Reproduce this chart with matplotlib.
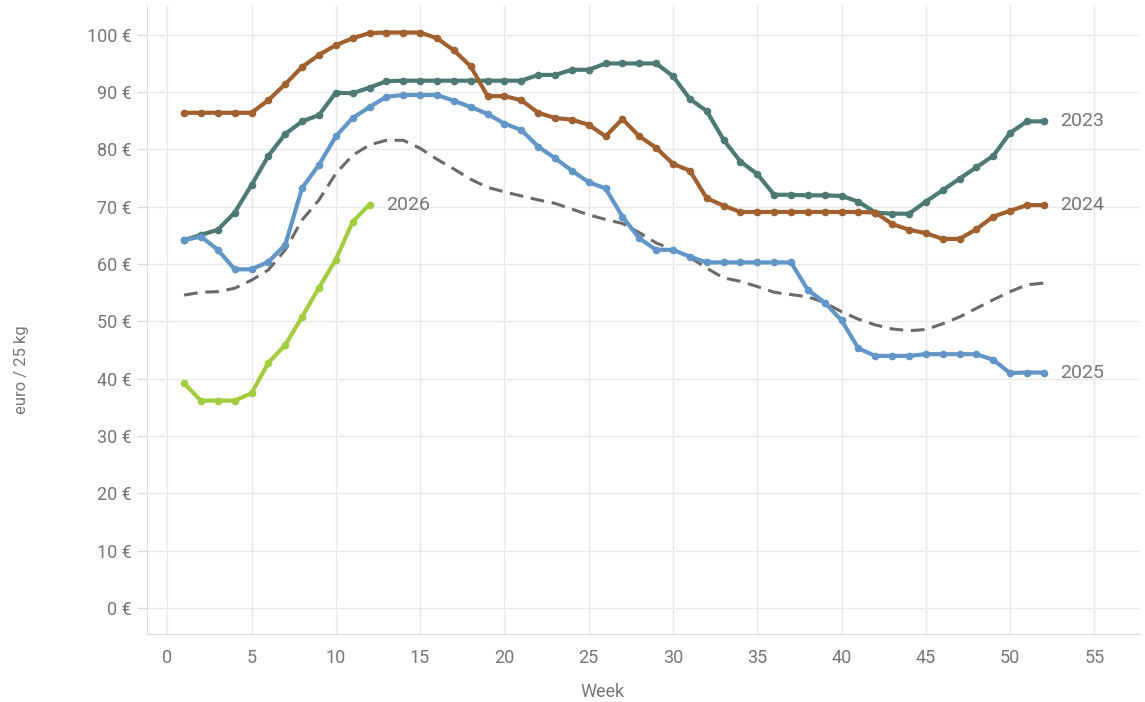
import numpy as np
import matplotlib
matplotlib.use('Agg')
from matplotlib import pyplot as plt
from matplotlib.ticker import FuncFormatter

plt.rcParams['font.family'] = ['Roboto', 'DejaVu Sans']

weeks = np.arange(1, 53)

price_2023 = [64.2, 65.1, 66.0, 69.0, 73.8, 78.9, 82.7, 84.9, 86.0, 89.9,
              89.8, 90.8, 91.9, 92.0, 92.0, 92.0, 92.0, 92.0, 92.0, 92.0,
              92.0, 93.0, 93.0, 93.9, 93.9, 95.0, 95.0, 95.0, 95.0, 92.8,
              88.8, 86.7, 81.7, 77.9, 75.7, 72.1, 72.1, 72.0, 72.0, 71.9,
              70.9, 69.0, 68.8, 68.8, 70.9, 72.9, 74.9, 76.9, 78.9, 82.9,
              84.9, 84.9]

price_2024 = [86.4, 86.4, 86.4, 86.4, 86.4, 88.6, 91.4, 94.4, 96.5, 98.2,
              99.4, 100.3, 100.4, 100.4, 100.4, 99.4, 97.3, 94.5, 89.3, 89.3,
              88.6, 86.4, 85.5, 85.2, 84.3, 82.3, 85.3, 82.3, 80.3, 77.5,
              76.3, 71.5, 70.2, 69.1, 69.1, 69.1, 69.1, 69.1, 69.1, 69.1,
              69.1, 69.0, 67.0, 66.0, 65.4, 64.4, 64.4, 66.1, 68.3, 69.3,
              70.3, 70.3]

price_2025 = [64.2, 64.8, 62.5, 59.1, 59.1, 60.4, 63.4, 73.3, 77.3, 82.3,
              85.5, 87.4, 89.2, 89.5, 89.5, 89.5, 88.5, 87.4, 86.2, 84.5,
              83.4, 80.5, 78.5, 76.3, 74.3, 73.2, 68.3, 64.5, 62.5, 62.5,
              61.3, 60.3, 60.3, 60.3, 60.3, 60.3, 60.3, 55.5, 53.3, 50.2,
              45.3, 44.0, 44.0, 44.0, 44.3, 44.3, 44.3, 44.3, 43.3, 41.0,
              41.1, 41.1]

weeks_2026 = np.arange(1, 13)
price_2026 = [39.2, 36.2, 36.2, 36.2, 37.5, 42.8, 45.9, 50.8, 55.9, 60.8,
              67.4, 70.4]

avg = [54.6, 55.1, 55.2, 55.8, 57.2, 59.0, 62.5, 67.7, 71.2, 75.8,
       79.0, 80.8, 81.6, 81.6, 80.2, 78.3, 76.6, 74.8, 73.4, 72.6,
       71.9, 71.2, 70.6, 69.6, 68.6, 67.8, 67.1, 65.5, 63.7, 62.5,
       61.2, 59.3, 57.6, 57.0, 56.1, 55.1, 54.7, 54.3, 53.3, 51.7,
       50.4, 49.4, 48.7, 48.4, 48.6, 49.6, 50.8, 52.3, 53.8, 55.2,
       56.4, 56.7]

c23 = '#4d7a72'
c24 = '#a1602f'
c25 = '#6196c6'
c26 = '#a2cd3f'
txt = '#767676'

fig = plt.figure(figsize=(11.45, 7.02), dpi=100)
ax = fig.add_axes([0.1284, 0.0969, 0.8672, 0.896])

ax.plot(weeks, avg, '--', color='#6a6a6a', lw=2.2, dashes=(4.5, 2.5), zorder=2)
for x, y, c in [(weeks, price_2023, c23), (weeks, price_2024, c24),
                (weeks, price_2025, c25), (weeks_2026, price_2026, c26)]:
    ax.plot(x, y, '-o', color=c, lw=3, ms=4.5, mec=c, mfc=c, zorder=3)

labels = [('2023', weeks[-1], price_2023[-1]), ('2024', weeks[-1], price_2024[-1]),
          ('2025', weeks[-1], price_2025[-1]), ('2026', weeks_2026[-1], price_2026[-1])]
for s, x, y in labels:
    ax.annotate(s, (x, y), xytext=(12, 0), textcoords='offset points',
                va='center', ha='left', fontsize=14, color=txt)

ax.set_xlim(-1.2, 57.7)
ax.set_ylim(-4.5, 105.2)
ax.set_xticks(np.arange(0, 56, 5))
ax.set_yticks(np.arange(0, 101, 10))
ax.yaxis.set_major_formatter(FuncFormatter(lambda v, p: '%d €' % v))
ax.grid(True, color='#e8e8ee', lw=1)
ax.set_axisbelow(True)
for s in ['top', 'right']:
    ax.spines[s].set_visible(False)
for s in ['left', 'bottom']:
    ax.spines[s].set_color('#dcdcdc')
ax.tick_params(axis='x', length=0, pad=11, labelsize=13, colors=txt)
ax.tick_params(axis='y', length=7, width=1, color='#dcdcdc', pad=4,
               labelsize=13, labelcolor=txt)
ax.set_xlabel('Week', fontsize=13, color=txt)
ax.set_ylabel('euro / 25 kg', fontsize=12, color=txt)
ax.xaxis.set_label_coords(0.459, -0.078)
ax.yaxis.set_label_coords(-0.119, 0.42)

plt.savefig('out.png', dpi=100)
